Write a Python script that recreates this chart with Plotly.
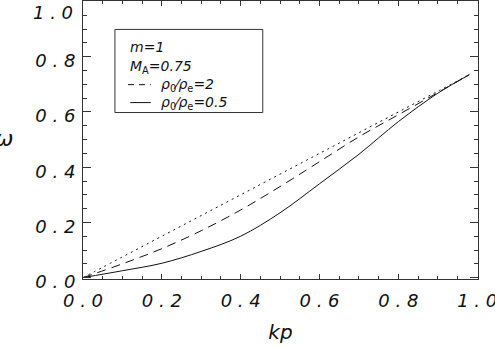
import plotly.graph_objects as go

# curve data
kp = [0.0, 0.1, 0.2, 0.3, 0.4, 0.5, 0.6, 0.7, 0.8, 0.9, 0.98]
omega_dot = [0.0, 0.075, 0.15, 0.225, 0.30, 0.375, 0.45, 0.525, 0.60, 0.675, 0.735]
omega_dash = [0.0, 0.05, 0.105, 0.17, 0.245, 0.33, 0.42, 0.51, 0.59, 0.67, 0.735]
omega_solid = [0.0, 0.025, 0.052, 0.095, 0.15, 0.235, 0.34, 0.447, 0.565, 0.668, 0.735]

tick_vals = [0.0, 0.2, 0.4, 0.6, 0.8, 1.0]
tick_text = ['0 . 0', '0 . 2', '0 . 4', '0 . 6', '0 . 8', '1 . 0']

FONT = 'DejaVu Sans'
INK = '#111111'
TICKFONT = dict(family=FONT, size=18, color=INK, style='italic')

fig = go.Figure()
fig.add_trace(go.Scatter(x=kp, y=omega_dot, mode='lines',
                         line=dict(color=INK, width=1, dash='2px,4px', shape='spline')))
fig.add_trace(go.Scatter(x=kp, y=omega_dash, mode='lines',
                         line=dict(color=INK, width=1, dash='9px,6px', shape='spline')))
fig.add_trace(go.Scatter(x=kp, y=omega_solid, mode='lines',
                         line=dict(color=INK, width=1, shape='spline')))

axis_common = dict(showline=True, linecolor='#333333', linewidth=1, mirror='ticks',
                   ticks='inside', tickcolor='#333333', showgrid=False, zeroline=False,
                   automargin=False, ticklabeloverflow='allow', tickvals=tick_vals,
                   tickfont=TICKFONT)

fig.update_xaxes(range=[0, 1.002], ticklen=5, ticklabelstandoff=5, ticktext=tick_text,
                 minor=dict(ticks='inside', dtick=0.05, ticklen=3, tickcolor='#333333'),
                 title=dict(text='kp', font=dict(family=FONT, size=20, color=INK, style='italic'),
                            standoff=15),
                 **axis_common)
# top y label is pushed down inside the window (as in the original), so it is drawn separately
fig.update_yaxes(range=[-0.005, 1.002], ticklen=8, ticklabelstandoff=3, ticklabelshift=4,
                 ticktext=tick_text[:-1] + [''],
                 minor=dict(ticks='inside', dtick=0.05, ticklen=4, tickcolor='#333333'),
                 **axis_common)
fig.add_annotation(x=0, y=1, xref='paper', yref='paper', text=tick_text[-1], showarrow=False,
                   xanchor='right', yanchor='top', xshift=-8, yshift=1, font=TICKFONT)

# legend box drawn in data space
fig.add_shape(type='rect', xref='x', yref='y', x0=0.081, x1=0.456, y0=0.598, y1=0.899,
              line=dict(color='#333333', width=1))
fig.add_shape(type='line', xref='x', yref='y', x0=0.114, x1=0.172, y0=0.699, y1=0.699,
              line=dict(color=INK, width=1, dash='6px,5px'))
fig.add_shape(type='line', xref='x', yref='y', x0=0.120, x1=0.172, y0=0.634, y1=0.634,
              line=dict(color=INK, width=1))

legend_font = dict(family=FONT, size=14, color=INK)
labels = [
    (0.114, 0.837, '<i>m</i>=<i>1</i>'),
    (0.114, 0.764, '<i>M</i><sub>A</sub><i>=0.75</i>'),
    (0.192, 0.699, '<i>ρ</i><sub>0</sub>⁄<i>ρ</i><sub>e</sub><i>=2</i>'),
    (0.192, 0.634, '<i>ρ</i><sub>0</sub>⁄<i>ρ</i><sub>e</sub><i>=0.5</i>'),
]
for lx, ly, txt in labels:
    fig.add_annotation(x=lx, y=ly, xref='x', yref='y', text=txt, showarrow=False,
                       xanchor='left', yanchor='middle', font=legend_font)

# y-axis title, clipped by the left edge as in the original
fig.add_annotation(x=-0.2, y=0.507, xref='paper', yref='paper', text='ω', showarrow=False,
                   xanchor='center', yanchor='middle',
                   font=dict(family=FONT, size=22, color=INK, style='italic'))

fig.update_layout(width=495, height=347, showlegend=False,
                  margin=dict(l=83, r=17, t=1, b=68),
                  plot_bgcolor='white', paper_bgcolor='white')

# drop the page's default body margin so the figure sits at the window corner
fig.write_html("out.html", config={'displayModeBar': False},
               post_script="document.body.style.margin='0';")
